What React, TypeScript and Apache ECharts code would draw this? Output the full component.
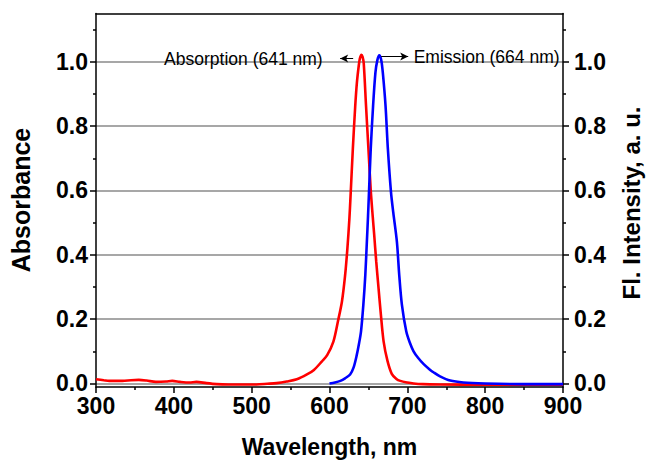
import React, { useEffect, useRef } from "react";
import * as echarts from "echarts";

const absWavelength = [300, 310, 317, 334, 345, 355, 365, 377, 390, 398, 408, 420, 429, 442, 455, 470, 490, 506, 520, 532, 545, 558, 571, 580, 590, 597, 605, 611, 616, 620, 623, 625.5, 627, 630, 633, 635.2, 637.5, 639, 641, 642.5, 644, 647, 650, 653, 655.5, 657.5, 660, 663, 666, 669.5, 674.5, 680, 686, 691, 700, 708, 720, 742, 800, 900];
const absValue = [0.013, 0.01, 0.008, 0.008, 0.01, 0.011, 0.009, 0.005, 0.006, 0.008, 0.005, 0.003, 0.005, 0.001, -0.002, -0.003, -0.003, -0.003, -0.001, 0.001, 0.006, 0.013, 0.028, 0.042, 0.068, 0.088, 0.13, 0.195, 0.255, 0.335, 0.42, 0.51, 0.58, 0.73, 0.86, 0.935, 0.986, 1.01, 1.022, 1.015, 0.995, 0.86, 0.73, 0.6, 0.52, 0.46, 0.38, 0.296, 0.214, 0.131, 0.07, 0.03, 0.014, 0.008, 0.003, 0, -0.002, -0.003, -0.004, -0.004];

const emWavelength = [600, 607, 614, 620, 626.5, 631, 635, 638, 640.5, 643.5, 646, 648, 649.5, 650.5, 653, 656, 659, 661.5, 664, 666.5, 668.5, 672, 675, 679, 682, 686.6, 689.6, 693, 698.6, 703, 708, 714, 721, 729, 734, 742, 755, 772, 800, 850, 900];
const emValue = [0, 0.003, 0.008, 0.016, 0.028, 0.05, 0.088, 0.125, 0.162, 0.245, 0.337, 0.44, 0.52, 0.58, 0.73, 0.863, 0.966, 1.005, 1.02, 1.005, 0.966, 0.863, 0.729, 0.595, 0.53, 0.44, 0.337, 0.245, 0.162, 0.128, 0.1, 0.079, 0.06, 0.043, 0.034, 0.022, 0.009, 0.003, 0, -0.002, -0.002];

const majorTicks = [0, 0.2, 0.4, 0.6, 0.8, 1.0];
const minorTicks = [0.1, 0.3, 0.5, 0.7, 0.9, 1.1];

const xTitle = "Wavelength, nm";
const yLeftTitle = "Absorbance";
const yRightTitle = "Fl. Intensity, a. u.";
const absLabel = "Absorption (641 nm)";
const emLabel = "Emission (664 nm)";
const absArrow = [[630.4, 1.01], [613.7, 1.01]];
const emArrow = [[666.4, 1.016], [701.1, 1.016]];

const FONT = "'Liberation Sans', Arial, sans-serif";

export default function App() {
  const ref = useRef<HTMLDivElement>(null);
  useEffect(() => {
    if (!ref.current) return;
    const chart = echarts.init(ref.current, undefined, { renderer: "svg" });
    const yMin = -0.011;
    const yMax = 1.15;
    const tickLabel = {
      fontFamily: FONT,
      fontWeight: "bold",
      fontSize: 23,
      color: "#000",
    };
    const fmt = (v: number) =>
      Math.abs(v * 5 - Math.round(v * 5)) < 1e-6 && v > -0.001 && v < 1.05 ? v.toFixed(1) : "";
    const majorY = (pos: "left" | "right", grid: boolean) => ({
      type: "value",
      position: pos,
      min: yMin,
      max: yMax,
      axisLine: { show: true, onZero: false, lineStyle: { color: "#000", width: 1.5 } },
      axisTick: { show: true, length: 6, customValues: majorTicks, lineStyle: { color: "#000", width: 1.5 } },
      axisLabel: { ...tickLabel, margin: pos === "left" ? 8 : 11, customValues: majorTicks, formatter: fmt },
      splitLine: { show: grid, lineStyle: { color: "#8a8a8a", width: 1.5 } },
    });
    const minorY = (pos: "left" | "right") => ({
      type: "value",
      position: pos,
      min: yMin,
      max: yMax,
      axisLine: { show: false, onZero: false },
      axisTick: { show: true, length: 3, customValues: minorTicks, lineStyle: { color: "#000", width: 1.5 } },
      axisLabel: { show: false },
      splitLine: { show: false },
    });
    const pairs = (xs: number[], ys: number[]) => xs.map((x, i) => [x, ys[i]]);
    const arrowLine = (pts: number[][]) => ({
      silent: true,
      animation: false,
      label: { show: false },
      lineStyle: { color: "#000", width: 1, type: "solid" },
      symbolSize: [6, 8],
      data: [[{ coord: pts[0], symbol: "none" }, { coord: pts[1], symbol: "arrow" }]],
    });
    const annot = (pt: number[], text: string, pos: "left" | "right", dist: number) => ({
      silent: true,
      animation: false,
      symbol: "circle",
      symbolSize: 1,
      itemStyle: { color: "rgba(0,0,0,0)" },
      label: {
        show: true,
        position: pos,
        distance: dist,
        formatter: text,
        fontFamily: FONT,
        fontSize: 17.5,
        color: "#000",
      },
      data: [{ coord: pt }],
    });
    chart.setOption({
      animation: false,
      backgroundColor: "#fff",
      grid: { left: 96, right: 83, top: 13.5, bottom: 73.7, containLabel: false },
      xAxis: [
        {
          type: "value",
          position: "bottom",
          min: 300,
          max: 900,
          interval: 100,
          axisLine: { show: true, onZero: false, lineStyle: { color: "#000", width: 1.5 } },
          axisTick: { show: true, length: 6, lineStyle: { color: "#000", width: 1.5 } },
          minorTick: { show: true, splitNumber: 2, length: 3, lineStyle: { color: "#000", width: 1.5 } },
          axisLabel: { ...tickLabel, margin: 7 },
          splitLine: { show: false },
          name: xTitle,
          nameLocation: "middle",
          nameGap: 48,
          nameTextStyle: { fontFamily: FONT, fontWeight: "bold", fontSize: 23, color: "#000" },
        },
        {
          type: "value",
          position: "top",
          min: 300,
          max: 900,
          interval: 100,
          axisLine: { show: true, onZero: false, lineStyle: { color: "#000", width: 1.5 } },
          axisTick: { show: false },
          axisLabel: { show: false },
          splitLine: { show: false },
        },
      ],
      yAxis: [majorY("left", true), minorY("left"), majorY("right", false), minorY("right")],
      graphic: [
        {
          type: "text",
          x: 21,
          y: 200,
          rotation: Math.PI / 2,
          style: {
            text: yLeftTitle,
            fontFamily: FONT,
            fontWeight: "bold",
            fontSize: 25,
            fill: "#000",
            align: "center",
            verticalAlign: "middle",
          },
        },
        {
          type: "text",
          x: 631,
          y: 203,
          rotation: Math.PI / 2,
          style: {
            text: yRightTitle,
            fontFamily: FONT,
            fontWeight: "bold",
            fontSize: 24,
            fill: "#000",
            align: "center",
            verticalAlign: "middle",
          },
        },
      ],
      series: [
        {
          type: "line",
          name: "Absorption",
          xAxisIndex: 0,
          yAxisIndex: 0,
          data: pairs(absWavelength, absValue),
          showSymbol: false,
          smooth: 0.3,
          lineStyle: { color: "#ff0000", width: 2.6 },
          itemStyle: { color: "#ff0000" },
          z: 3,
          markLine: arrowLine(absArrow),
          markPoint: annot(absArrow[1], absLabel, "left", 17),
        },
        {
          type: "line",
          name: "Emission",
          xAxisIndex: 0,
          yAxisIndex: 2,
          data: pairs(emWavelength, emValue),
          showSymbol: false,
          smooth: 0.3,
          lineStyle: { color: "#0000ff", width: 2.6 },
          itemStyle: { color: "#0000ff" },
          z: 4,
          markLine: arrowLine(emArrow),
          markPoint: annot(emArrow[1], emLabel, "right", 5),
        },
      ],
    });
    return () => chart.dispose();
  }, []);
  return <div ref={ref} style={{ position: "fixed", left: 0, top: 0, width: 646, height: 463 }} />;
}
